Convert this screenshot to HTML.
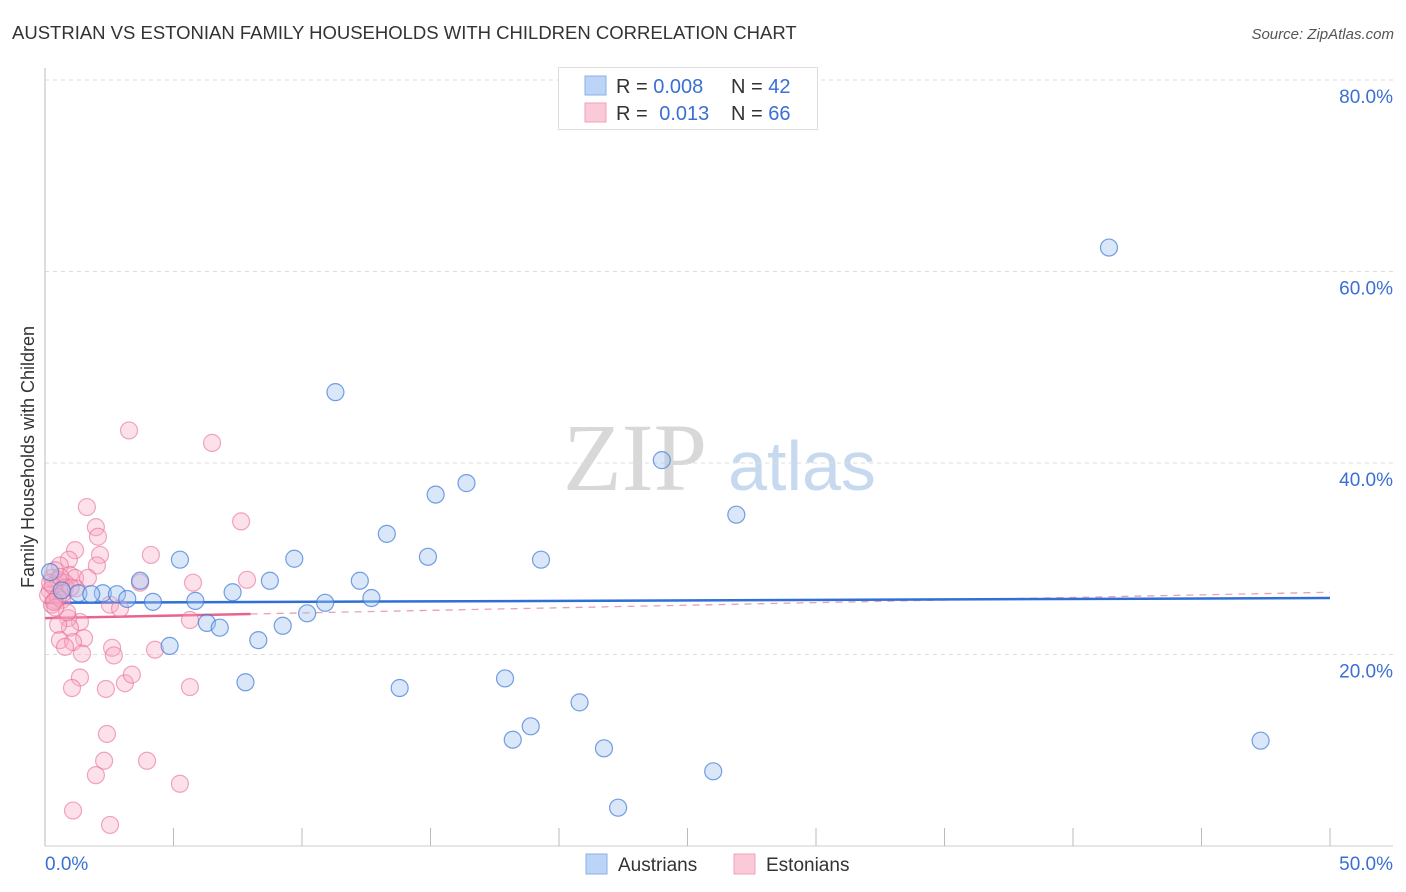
<!DOCTYPE html>
<html><head><meta charset="utf-8"><style>
body{margin:0;background:#fff;font-family:"Liberation Sans",sans-serif;}
svg{display:block}
</style></head><body>
<svg id="chart" width="1406" height="892" xmlns="http://www.w3.org/2000/svg">
<text x="12" y="39" font-size="18.5" fill="#333">AUSTRIAN VS ESTONIAN FAMILY HOUSEHOLDS WITH CHILDREN CORRELATION CHART</text>
<text x="1394" y="39" font-size="15" fill="#555" font-style="italic" text-anchor="end">Source: ZipAtlas.com</text>
<text x="0" y="0" transform="translate(34,457) rotate(-90)" font-size="18" fill="#333" text-anchor="middle">Family Households with Children</text>
<g>
<text x="635" y="490" font-family="Liberation Serif,serif" font-size="96" fill="#d8d8d8" text-anchor="middle">ZIP</text>
<text x="802" y="490" font-size="70" fill="#c6d9ef" text-anchor="middle">atlas</text>
</g>
<g id="grid"></g><g id="axes"></g><g id="lines"></g><g id="points"></g>
<g>
<rect x="558.5" y="67.5" width="259" height="62" fill="#fff" stroke="#ddd"/>
<rect x="585" y="76" width="21" height="19" fill="#bcd4f6" stroke="#8ab0e8"/>
<rect x="585" y="103" width="21" height="19" fill="#fbcad8" stroke="#f0a0b8"/>
<text x="616" y="93" font-size="20" fill="#333">R = <tspan fill="#3a6fd4">0.008</tspan></text>
<text x="731" y="93" font-size="20" fill="#333">N = <tspan fill="#3a6fd4">42</tspan></text>
<text x="616" y="120" font-size="20" fill="#333">R = <tspan fill="#3a6fd4" dx="6">0.013</tspan></text>
<text x="731" y="120" font-size="20" fill="#333">N = <tspan fill="#3a6fd4">66</tspan></text>
</g>
<g>
<rect x="586" y="854" width="21" height="20" fill="#bcd4f6" stroke="#8ab0e8"/>
<text x="618" y="871" font-size="19" fill="#333">Austrians</text>
<rect x="734" y="854" width="21" height="20" fill="#fbcad8" stroke="#f0a0b8"/>
<text x="766" y="871" font-size="19" fill="#333">Estonians</text>
</g>
</svg>
<script>
const yTicks=[20,40,60,80];
const yTickLabels=["20.0%","40.0%","60.0%","80.0%"];
const xTickLabels=["0.0%","50.0%"];
const austX=[41.4,11.3,24.0,16.4,15.2,26.9,13.3,14.9,19.3,5.25,9.7,8.75,12.25,3.7,7.3,2.25,2.8,1.3,1.8,3.2,4.2,5.85,10.9,12.7,10.2,6.3,6.8,9.25,8.3,4.85,7.8,13.8,17.9,20.8,18.9,18.2,21.75,47.3,26.0,22.3,0.2,0.65];
const austY=[62.5,47.4,40.3,37.9,36.7,34.6,32.6,30.2,29.9,29.9,30.0,27.7,27.7,27.7,26.5,26.4,26.3,26.4,26.3,25.8,25.5,25.6,25.4,25.9,24.3,23.3,22.8,23.0,21.5,20.9,17.1,16.5,17.5,15.0,12.5,11.1,10.2,11.0,7.8,4.0,28.6,26.7];
const estX=[3.27,6.5,1.63,1.98,2.06,7.63,2.14,4.12,1.17,0.93,0.58,2.02,0.97,0.27,0.51,0.78,1.17,1.67,3.7,5.76,7.86,0.19,0.78,0.39,2.53,2.92,5.64,1.36,0.9,0.97,0.51,1.52,0.58,1.09,2.61,4.28,0.78,1.44,2.68,1.36,1.05,2.37,3.11,3.38,5.64,2.41,2.3,1.98,3.97,1.09,2.53,5.25,0.27,0.12,0.39,0.66,0.86,0.3,0.5,0.7,0.2,0.4,1.2,0.6,1.0,0.35];
const estY=[43.4,42.1,35.4,33.3,32.3,33.9,30.4,30.4,30.9,29.9,29.3,29.3,28.3,28.0,27.8,27.5,28.0,28.0,27.5,27.5,27.8,26.7,27.0,25.7,25.2,24.8,23.6,23.4,23.8,22.8,23.1,21.7,21.5,21.3,20.7,20.5,20.8,20.1,19.9,17.6,16.5,16.4,17.0,17.9,16.6,11.7,8.9,7.4,8.9,3.7,2.2,6.5,25.2,26.2,28.8,25.7,24.4,27.2,26.0,26.4,27.5,24.9,26.9,28.1,27.0,25.5];
const austTrend=[25.4,25.9];
const estTrend=[23.8,26.5];
const NS="http://www.w3.org/2000/svg";
const X0=45,X1=1330,Y0=846,PY=9.575;
const sx=v=>X0+(X1-X0)*v/50;
const sy=v=>Y0-v*PY;
function mk(t,a,p){const e=document.createElementNS(NS,t);for(const k in a)e.setAttribute(k,a[k]);document.getElementById(p).appendChild(e);return e;}
yTicks.forEach((t,i)=>{
 const l=mk('line',{x1:X0,x2:1393,y1:sy(t),y2:sy(t),stroke:'#ddd','stroke-dasharray':'4 4'},'grid');
 
 
 const tx=mk('text',{x:1393,y:sy(t)+23,'font-size':19,fill:'#3a6fd4','text-anchor':'end'},'grid');
 tx.textContent=yTickLabels[i];
 
 
});
mk('line',{x1:X0,x2:X0,y1:68,y2:Y0,stroke:'#bbb'},'axes');
mk('line',{x1:X0,x2:1393,y1:Y0,y2:Y0,stroke:'#ccc'},'axes');
for(let k=0;k<=10;k++){const x=sx(k*5);const t=mk('line',{x1:x,x2:x,y1:828,y2:Y0,stroke:'#bbb'},'axes');
 
 }
[[0,'start',45],[50,'end',1393]].forEach((d,i)=>{const t=mk('text',{x:d[2],y:870,'font-size':19,fill:'#3a6fd4','text-anchor':d[1]},'axes');t.textContent=xTickLabels[i];
 
 });
estX.forEach((x,i)=>{const c=mk('circle',{cx:sx(x),cy:sy(estY[i]),r:8.5,fill:'rgba(248,170,195,0.35)',stroke:'rgba(232,110,150,0.6)','stroke-width':1.2},'points');
 
 });
austX.forEach((x,i)=>{const c=mk('circle',{cx:sx(x),cy:sy(austY[i]),r:8.5,fill:'rgba(160,195,240,0.4)',stroke:'rgba(60,120,215,0.7)','stroke-width':1.2},'points');
 
 });
const ea=estTrend[0],eb=estTrend[1],xm=8;
const pl=mk('line',{x1:sx(0),y1:sy(ea),x2:sx(xm),y2:sy(ea+(eb-ea)*xm/50),stroke:'#e8648e','stroke-width':2.5},'lines');


const pd=mk('line',{x1:sx(xm),y1:sy(ea+(eb-ea)*xm/50),x2:sx(50),y2:sy(eb),stroke:'#e8a0b8','stroke-width':1.3,'stroke-dasharray':'7 6'},'lines');


const bl=mk('line',{x1:sx(0),y1:sy(austTrend[0]),x2:sx(50),y2:sy(austTrend[1]),stroke:'#2f6fd6','stroke-width':2.5},'lines');


</script>
</body></html>
